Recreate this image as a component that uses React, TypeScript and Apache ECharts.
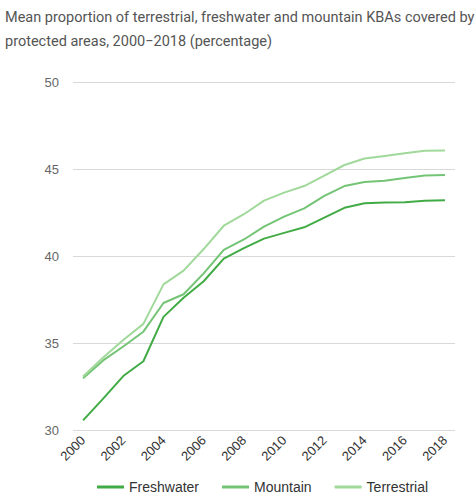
import React, { useEffect, useRef } from "react";
import * as echarts from "echarts";

const years = ["2000","2001","2002","2003","2004","2005","2006","2007","2008","2009","2010","2011","2012","2013","2014","2015","2016","2017","2018"];
const freshwater = [30.55, 31.8, 33.1, 33.95, 36.5, 37.6, 38.55, 39.85, 40.45, 41.0, 41.33, 41.65, 42.2, 42.77, 43.03, 43.07, 43.09, 43.18, 43.2];
const mountain = [32.97, 34.0, 34.8, 35.65, 37.3, 37.8, 39.0, 40.35, 40.95, 41.69, 42.26, 42.74, 43.45, 44.02, 44.25, 44.33, 44.48, 44.63, 44.65];
const terrestrial = [33.07, 34.17, 35.17, 36.1, 38.37, 39.16, 40.4, 41.74, 42.4, 43.18, 43.64, 44.02, 44.62, 45.23, 45.6, 45.75, 45.9, 46.05, 46.06];
const seriesNames = ["Freshwater", "Mountain", "Terrestrial"];
const colors = ["#41ab45", "#74c476", "#a1d99b"];
const titleText = "Mean proportion of terrestrial, freshwater and mountain KBAs covered by\nprotected areas, 2000\u22122018 (percentage)";

export default function App() {
  const ref = useRef<HTMLDivElement>(null);
  useEffect(() => {
    if (!ref.current) return;
    const chart = echarts.init(ref.current, null, { renderer: "svg" });
    const data = [freshwater, mountain, terrestrial];
    chart.setOption({
      animation: false,
      color: colors,
      title: {
        text: titleText,
        left: 0,
        top: 0,
        textStyle: {
          fontFamily: "Roboto",
          fontSize: 14.5,
          fontWeight: "normal",
          color: "#555",
          lineHeight: 24,
        },
      },
      legend: {
        top: 475,
        left: 92,
        icon: "rect",
        itemWidth: 27,
        itemHeight: 3,
        itemGap: 23,
        textStyle: { fontFamily: "Liberation Sans", fontSize: 14, color: "#333" },
        data: seriesNames,
      },
      grid: { left: 73, right: 20, top: 82, bottom: 70, containLabel: false },
      xAxis: {
        type: "category",
        data: years,
        boundaryGap: true,
        axisLine: { show: false },
        axisTick: { show: false },
        axisLabel: {
          interval: 1,
          rotate: 45,
          margin: 8,
          fontFamily: "Liberation Sans",
          fontSize: 13,
          color: "#333",
        },
      },
      yAxis: {
        type: "value",
        min: 30,
        max: 50,
        interval: 5,
        axisLine: { show: false },
        axisTick: { show: false },
        axisLabel: { fontFamily: "Liberation Sans", fontSize: 13, color: "#666", margin: 14 },
        splitLine: { lineStyle: { color: "#d9d9d9", width: 1 } },
      },
      series: seriesNames.map((name, i) => ({
        name,
        type: "line",
        data: data[i],
        symbol: "none",
        lineStyle: { width: 2, color: colors[i] },
        itemStyle: { color: colors[i] },
      })),
    });
    return () => chart.dispose();
  }, []);
  return (
    <div
      ref={ref}
      style={{ position: "fixed", left: 0, top: 0, width: 475, height: 500, background: "#fff" }}
    />
  );
}
